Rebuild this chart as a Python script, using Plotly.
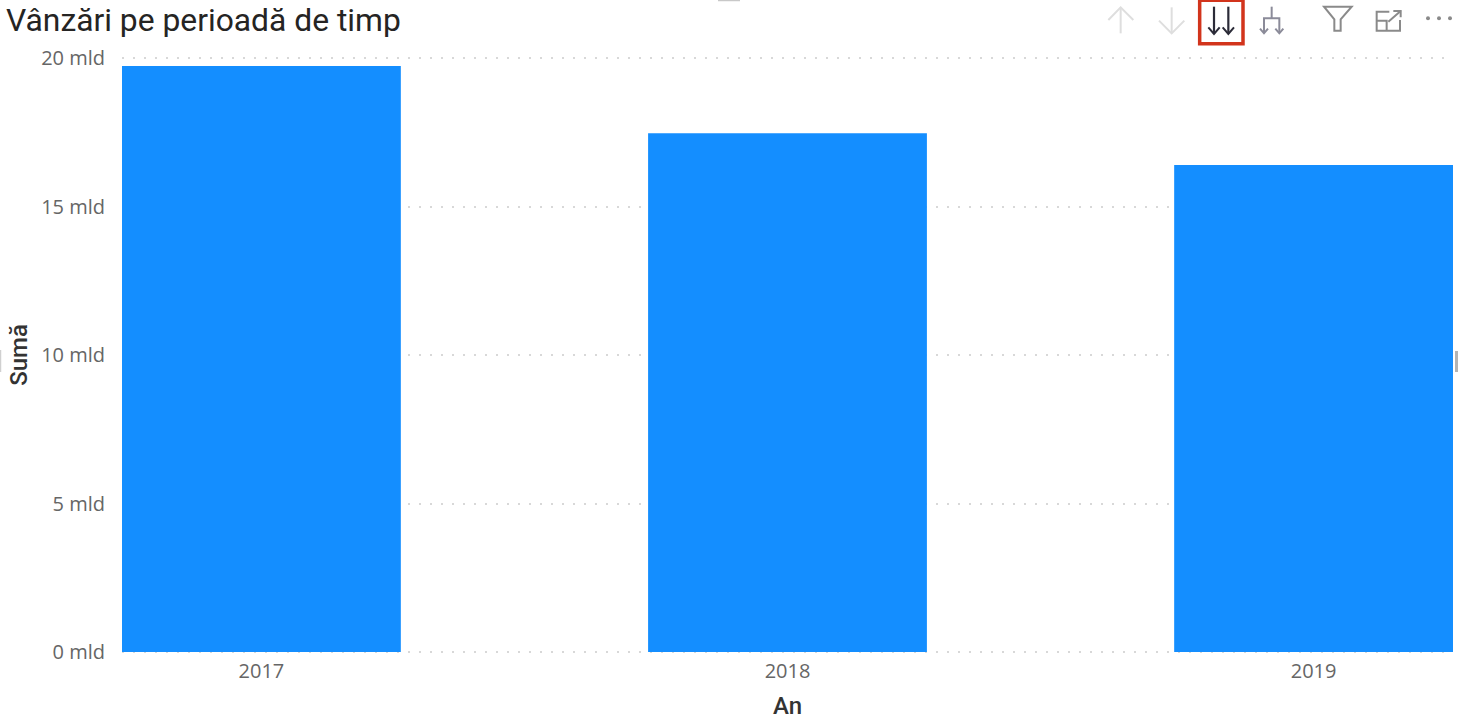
import plotly.graph_objects as go

years = ["2017", "2018", "2019"]
sales = [19.73, 17.47, 16.4]
tick_vals = [0, 5, 10, 15, 20]
tick_text = ["0 mld", "5 mld", "10 mld", "15 mld", "20 mld"]
title_text = "Vânzări pe perioadă de timp"
x_title = "An"
y_title = "Sumă"

W, H = 1458, 720
def px(x): return x / W
def py(y): return 1 - y / H

def path(points, close=False):
    s = "M " + " L ".join(f"{px(x):.5f},{py(y):.5f}" for x, y in points)
    return s + (" Z" if close else "")

def line_icon(points, color, width=2, close=False):
    return dict(type="path", xref="paper", yref="paper", path=path(points, close),
                line=dict(color=color, width=width), layer="above")

def zc(x): return 1090 + x / 3
def zy(y): return y / 3

shapes = []
c1 = "#dedede"
shapes += [line_icon([(zc(92), zy(100)), (zc(92), zy(22))], c1),
           line_icon([(zc(55), zy(60)), (zc(92), zy(22)), (zc(130), zy(60))], c1)]
shapes += [line_icon([(zc(245), zy(22)), (zc(245), zy(100))], c1),
           line_icon([(zc(207), zy(62)), (zc(245), zy(100)), (zc(283), zy(62))], c1)]
c2 = "#2b2b38"
for cx in (372, 415):
    shapes += [line_icon([(zc(cx), zy(20)), (zc(cx), zy(102))], c2, 2.2),
               line_icon([(zc(cx - 17), zy(82)), (zc(cx), zy(102)), (zc(cx + 17), zy(82))], c2, 2)]
shapes.append(line_icon([(zc(329), zy(1)), (zc(459), zy(1)), (zc(459), zy(131)), (zc(329), zy(131))],
                        "#d2341c", 3.5, close=True))
c3 = "#8b8b99"
shapes += [line_icon([(zc(545), zy(20)), (zc(545), zy(55))], c3),
           line_icon([(zc(522), zy(98)), (zc(522), zy(55)), (zc(568), zy(55)), (zc(568), zy(98))], c3),
           line_icon([(zc(510), zy(86)), (zc(522), zy(100)), (zc(534), zy(86))], c3),
           line_icon([(zc(556), zy(86)), (zc(568), zy(100)), (zc(580), zy(86))], c3)]
c4 = "#8a8a8a"
shapes.append(line_icon([(zc(702), zy(20)), (zc(785), zy(20)), (zc(752), zy(58)), (zc(752), zy(92)),
                         (zc(733), zy(92)), (zc(733), zy(58))], c4, 2, close=True))
shapes += [line_icon([(zc(930), zy(60)), (zc(930), zy(92)), (zc(860), zy(92)), (zc(860), zy(35)), (zc(898), zy(35))], c4),
           line_icon([(zc(860), zy(62)), (zc(890), zy(62)), (zc(890), zy(92))], c4),
           line_icon([(zc(895), zy(65)), (zc(932), zy(33))], c4),
           line_icon([(zc(910), zy(33)), (zc(932), zy(33)), (zc(932), zy(52))], c4)]
for cx in (1014, 1047, 1080):
    shapes.append(dict(type="circle", xref="paper", yref="paper",
                       x0=px(zc(cx) - 2), x1=px(zc(cx) + 2), y0=py(zy(55) + 2), y1=py(zy(55) - 2),
                       fillcolor="#8a8a8a", line=dict(width=0)))
# selection handles at the visual's edges
shapes += [line_icon([(1456.5, 351), (1456.5, 372)], "#b4b4b4", 3),
           line_icon([(0.5, 350), (0.5, 372)], "#d0d0d0", 1.5),
           line_icon([(718, 0.5), (740, 0.5)], "#c8c8c8", 1.5)]

fig = go.Figure(go.Bar(x=years, y=sales, marker=dict(color="#148EFF", line=dict(width=0)), width=0.53))

fig.update_layout(
    width=W, height=H, margin=dict(l=0, r=0, t=0, b=0),
    paper_bgcolor="#ffffff", plot_bgcolor="#ffffff", showlegend=False,
    shapes=shapes,
    annotations=[dict(text=title_text, xref="paper", yref="paper", x=px(4), y=py(19.5), xanchor="left",
                      yanchor="middle", showarrow=False,
                      font=dict(family="Roboto", size=31.8, color="#252423"))],
    xaxis=dict(domain=[px(122), px(1453)], type="category", range=[-0.265, 2.265], automargin=False,
               showgrid=False, zeroline=False, showline=False, ticks="",
               ticklabelstandoff=2,
               tickfont=dict(family="Open Sans", size=20, color="#666666"),
               title=dict(text=x_title, standoff=14, font=dict(family="Roboto", size=24, weight=500, color="#333333"))),
    yaxis=dict(domain=[py(655), py(55)], range=[-0.101, 20.101], tickvals=tick_vals, ticktext=tick_text,
               automargin=False,
               showgrid=True, gridcolor="#d8d8d8", griddash="2px,9px", gridwidth=2,
               zeroline=False, showline=False, ticks="", ticklabelstandoff=16,
               tickfont=dict(family="Open Sans", size=20, color="#666666"),
               title=dict(text=y_title, standoff=6, font=dict(family="Roboto", size=24, weight=500, color="#333333"))),
)

fig.write_html("out.html", config=dict(displayModeBar=False),
               post_script="document.body.style.margin='0';document.body.style.overflow='hidden';")
